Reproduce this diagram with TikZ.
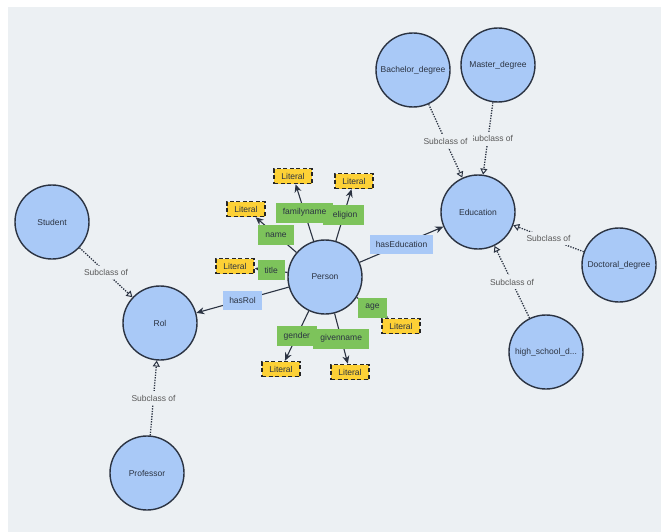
\documentclass[tikz,border=0pt]{standalone}
\usepackage{fontspec}
\setmainfont{Liberation Sans}
\usetikzlibrary{arrows.meta, positioning}
\definecolor{canvas}{HTML}{ECF0F3}
\definecolor{clsblue}{HTML}{A9C9F7}
\definecolor{propgreen}{HTML}{7DC35B}
\definecolor{lityellow}{HTML}{FDD136}
\definecolor{inkdark}{HTML}{2B3342}

\begin{document}
\begin{tikzpicture}[x=1pt, y=-1pt, font=\fontsize{8.5}{10}\selectfont,
  cls/.style={circle, draw=inkdark, line width=1.4pt, fill=clsblue, minimum size=74pt, inner sep=0pt, text=inkdark},
  lit/.style={draw=black!85, line width=1.5pt, dash pattern=on 4pt off 2.5pt, fill=lityellow, minimum width=38pt, minimum height=15pt, inner sep=1pt, text=inkdark},
  dprop/.style={fill=propgreen, minimum height=20pt, inner xsep=7pt, text=inkdark},
  oprop/.style={fill=clsblue, minimum height=19pt, inner xsep=6pt, text=inkdark},
  datalink/.style={draw=inkdark, line width=1.1pt, -{Stealth[length=8pt,width=7pt]}},
  sublink/.style={draw=inkdark, line width=1.3pt, dash pattern=on 1.3pt off 1.3pt, -{Triangle[open,length=6pt,width=7pt,line width=1pt]}},
  sublabel/.style={fill=canvas, text=black!65, inner xsep=6pt, inner ysep=3.5pt}]
\useasboundingbox (0,0) rectangle (661,532);
\fill[white] (0,0) rectangle (661,532);
\fill[canvas] (8,7) rectangle (661,532);

% classes
\node[cls] (person) at (325,277) {Person};
\node[cls] (edu) at (478,212) {Education};
\node[cls] (bach) at (413,70) {Bachelor\_degree};
\node[cls] (master) at (498,65) {Master\_degree};
\node[cls] (doct) at (619,265) {Doctoral\_degree};
\node[cls] (school) at (546,352) {high\_school\_d...};
\node[cls] (rol) at (160,323) {Rol};
\node[cls] (student) at (52,222) {Student};
\node[cls] (prof) at (147,473) {Professor};

% literals
\node[lit] (litfamily) at (293,176) {Literal};
\node[lit] (litreligion) at (354,181) {Literal};
\node[lit] (litname) at (246,209) {Literal};
\node[lit] (littitle) at (235,266) {Literal};
\node[lit] (litage) at (401,326) {Literal};
\node[lit] (litgender) at (281,369) {Literal};
\node[lit] (litgiven) at (350,372) {Literal};

% data properties
\draw[datalink] (person) -- node[dprop] {religion} (litreligion);
\draw[datalink] (person) -- node[dprop] {familyname} (litfamily);
\draw[datalink] (person) -- node[dprop] {name} (litname);
\draw[datalink] (person) -- node[dprop] {title} (littitle);
\draw[datalink] (person) -- node[dprop] {age} (litage);
\draw[datalink] (person) -- node[dprop] {givenname} (litgiven);
\draw[datalink] (person) -- node[dprop] {gender} (litgender);

% object properties
\draw[datalink] (person) -- node[oprop] {hasRol} (rol);
\draw[datalink] (person) -- node[oprop] {hasEducation} (edu);

% subclasses
\draw[sublink] (master) -- node[sublabel, xshift=3pt] {Subclass of} (edu);
\draw[sublink] (bach) -- node[sublabel] {Subclass of} (edu);
\draw[sublink] (doct) -- node[sublabel] {Subclass of} (edu);
\draw[sublink] (school) -- node[sublabel] {Subclass of} (edu);
\draw[sublink] (student) -- node[sublabel] {Subclass of} (rol);
\draw[sublink] (prof) -- node[sublabel] {Subclass of} (rol);
\end{tikzpicture}
\end{document}
